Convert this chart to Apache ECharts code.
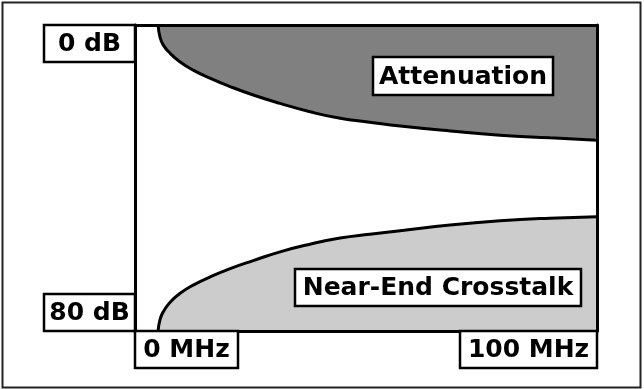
<!DOCTYPE html>
<html>
<head>
<meta charset="utf-8">
<script src="https://cdn.jsdelivr.net/npm/echarts@6/dist/echarts.min.js"></script>
<style>
html,body{margin:0;padding:0;background:#fff;}
#chart{width:644px;height:389px;}
</style>
</head>
<body>
<div id="chart"></div>
<script>
// Data
const freqMHz = [5.0, 5.4, 6.1, 7.6, 9.7, 12.6, 16.2, 20.6, 25.6, 31.4, 37.9, 44.4, 50.8, 57.4, 68.2, 79.0, 89.8, 100];
const attenuationDb = [0, 3.1, 5.2, 7.4, 9.6, 11.8, 13.9, 16.1, 18.3, 20.5, 22.7, 24.4, 25.4, 26.4, 27.7, 28.8, 29.5, 30.1];
const crosstalkDb = [80, 77.1, 75.0, 72.5, 70.2, 68.0, 65.9, 63.7, 61.6, 59.3, 57.3, 55.7, 54.7, 53.8, 52.3, 51.2, 50.5, 50.1];
const xTicks = [0, 100];
const xTickLabels = ['0 MHz', '100 MHz'];
const yTicks = [0, 80];
const yTickLabels = ['0 dB', '80 dB'];
const seriesNames = ['Attenuation', 'Near-End Crosstalk'];

const chart = echarts.init(document.getElementById('chart'), null, {renderer: 'canvas'});

function pairs(xs, ys) { return xs.map((x, i) => [x, ys[i]]); }

function axis(pos) {
  return {
    type: 'value', position: pos,
    axisTick: {show: false}, axisLabel: {show: false}, splitLine: {show: false},
    axisLine: {show: true, onZero: false, lineStyle: {color: '#000', width: 3}}, z: 5
  };
}

const xa0 = Object.assign(axis('bottom'), {min: xTicks[0], max: xTicks[1]});
const xa1 = Object.assign(axis('top'), {min: xTicks[0], max: xTicks[1]});
const ya0 = Object.assign(axis('left'), {min: yTicks[0], max: yTicks[1], inverse: true});
const ya1 = Object.assign(axis('right'), {min: yTicks[0], max: yTicks[1], inverse: true});

chart.setOption({
  animation: false,
  backgroundColor: '#fff',
  grid: {left: 135, top: 25, width: 462, height: 306, show: false},
  xAxis: [xa0, xa1],
  yAxis: [ya0, ya1],
  series: [
    {
      name: seriesNames[0], type: 'line', data: pairs(freqMHz, attenuationDb),
      smooth: 0.5, symbol: 'none',
      lineStyle: {color: '#000', width: 3},
      areaStyle: {color: '#808080', opacity: 1, origin: 'start'}
    },
    {
      name: seriesNames[1], type: 'line', data: pairs(freqMHz, crosstalkDb),
      smooth: 0.5, symbol: 'none',
      lineStyle: {color: '#000', width: 3},
      areaStyle: {color: '#cccccc', opacity: 1, origin: 'end'}
    }
  ]
});

function box(text, x, y, w, h) {
  return {
    type: 'group', x: x, y: y, z: 20,
    children: [
      {type: 'rect', z: 20, shape: {x: 0, y: 0, width: w, height: h},
       style: {fill: '#fff', stroke: '#000', lineWidth: 2.5}},
      {type: 'text', z: 21, x: w / 2, y: h / 2 + 1,
       style: {text: text, fontFamily: '"DejaVu Sans", sans-serif', fontWeight: 'bold',
               fontSize: 25, fill: '#000', align: 'center', verticalAlign: 'middle'}}
    ]
  };
}

const px = (v) => chart.convertToPixel({gridIndex: 0}, v);
const tl = px([xTicks[0], yTicks[0]]);
const br = px([xTicks[1], yTicks[1]]);
const gfx = [
  {type: 'rect', z: 0, shape: {x: 2.5, y: 2.5, width: 638, height: 385},
   style: {fill: null, stroke: '#222', lineWidth: 2}},
  box(yTickLabels[0], tl[0] - 91, tl[1], 91, 37),
  box(yTickLabels[1], tl[0] - 91, br[1] - 37, 91, 37),
  box(xTickLabels[0], tl[0], br[1], 103, 37),
  box(xTickLabels[1], br[0] - 137, br[1], 137, 37),
  box(seriesNames[0], 373, 57, 180, 38),
  box(seriesNames[1], 295, 269, 286, 37)
];
chart.setOption({graphic: gfx});
</script>
</body>
</html>
